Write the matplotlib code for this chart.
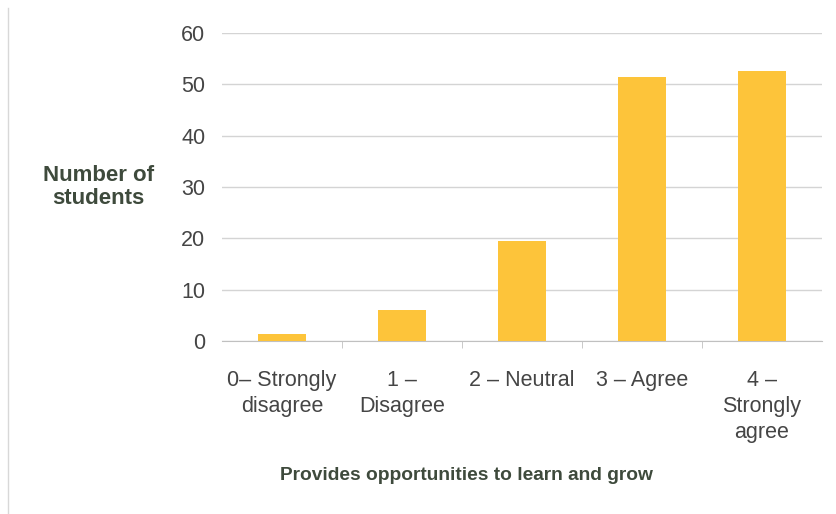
import numpy as np
from matplotlib import pyplot as plt

# Data
categories = ["0\u2013 Strongly\ndisagree", "1 \u2013\nDisagree", "2 \u2013 Neutral",
              "3 \u2013 Agree", "4 \u2013\nStrongly\nagree"]
counts = [1.4, 6.0, 19.4, 51.4, 52.6]
y_ticks = [0, 10, 20, 30, 40, 50, 60]

plt.rcParams['font.family'] = ['Liberation Sans', 'DejaVu Sans']

fig = plt.figure(figsize=(8.37, 5.14), dpi=100)
ax = fig.add_axes([0.265, 0.3366, 0.717, 0.5992])

x = np.arange(len(categories))
ax.bar(x, counts, width=0.4, color="#FDC43A", zorder=3)

ax.set_xlim(-0.5, len(categories) - 0.5)
ax.set_ylim(0, 60)
ax.set_yticks(y_ticks)
ax.yaxis.grid(True, color="#d4d4d4", linewidth=1, zorder=0)
ax.tick_params(axis="y", length=0, pad=12, labelsize=15.5, labelcolor="#454545")

# category labels at centres, tick marks on the boundaries
ax.set_xticks(x)
ax.set_xticklabels(categories, fontsize=15.5, color="#454545", linespacing=1.3)
ax.tick_params(axis="x", which="major", length=0, pad=21)
ax.set_xticks(np.arange(0.5, len(categories) - 0.5, 1), minor=True)
ax.tick_params(axis="x", which="minor", length=5, color="#c0c0c0")

for side in ["top", "right", "left"]:
    ax.spines[side].set_visible(False)
ax.spines["bottom"].set_color("#c0c0c0")

fig.text(0.118, 0.636, "Number of\nstudents", ha="center", va="center",
         fontsize=16, fontweight="bold", color="#3e4a3c", linespacing=1.1)
fig.text(0.557, 0.075, "Provides opportunities to learn and grow", ha="center",
         va="center", fontsize=13.8, fontweight="bold", color="#3e4a3c")

# thin border line at the left edge of the picture
fig.add_artist(plt.Line2D([0.0096, 0.0096], [0.0, 0.985], color="#d8d8d8",
                          linewidth=1, transform=fig.transFigure))

fig.savefig("out.png", dpi=100)
